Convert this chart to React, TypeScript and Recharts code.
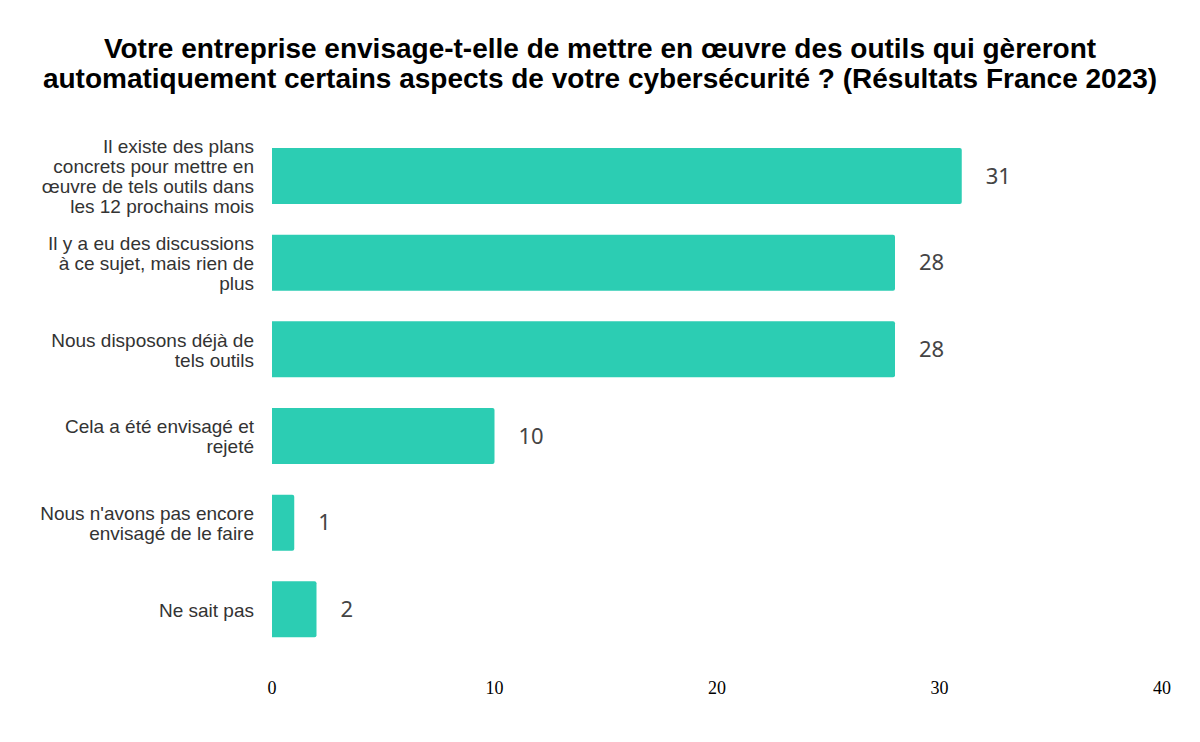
import React from 'react';
import { BarChart, Bar, XAxis, YAxis, LabelList } from 'recharts';

const categories = [
  'Il existe des plans concrets pour mettre en œuvre de tels outils dans les 12 prochains mois',
  'Il y a eu des discussions à ce sujet, mais rien de plus',
  'Nous disposons déjà de tels outils',
  'Cela a été envisagé et rejeté',
  "Nous n'avons pas encore envisagé de le faire",
  'Ne sait pas',
];
const values = [31, 28, 28, 10, 1, 2];
const xTicks = [0, 10, 20, 30, 40];

const data = categories.map((name, i) => ({ name, value: values[i] }));

const wrap = (text: string, max = 25) => {
  const lines: string[] = [];
  let cur = '';
  text.split(' ').forEach((w) => {
    const next = cur ? cur + ' ' + w : w;
    if (next.length > max && cur) {
      lines.push(cur);
      cur = w;
    } else cur = next;
  });
  if (cur) lines.push(cur);
  return lines;
};

const CategoryTick = ({ x, y, payload }: any) => {
  const lines = wrap(payload.value);
  const lh = 20;
  const start = y - ((lines.length - 1) * lh) / 2;
  return (
    <text x={x - 10} y={start} textAnchor="end" fill="#333" fontSize={19}
      fontFamily="'Liberation Sans', Arial, sans-serif" dominantBaseline="central">
      {lines.map((l, i) => (
        <tspan key={i} x={x - 10} y={start + i * lh}>{l}</tspan>
      ))}
    </text>
  );
};

export default function App() {
  return (
    <div style={{ position: 'absolute', top: 0, left: 0, width: 1200, height: 742, background: '#fff' }}>
      <div style={{
        position: 'absolute', top: 34, left: 0, width: 1200, textAlign: 'center',
        fontFamily: "'Liberation Sans', Arial, sans-serif", fontWeight: 'bold', fontSize: 28,
        lineHeight: '30px', color: '#000',
      }}>
        Votre entreprise envisage-t-elle de mettre en œuvre des outils qui gèreront<br />
        automatiquement certains aspects de votre cybersécurité ? (Résultats France 2023)
      </div>
      <BarChart width={1200} height={742} data={data} layout="vertical"
        margin={{ top: 133, right: 38, bottom: 29, left: 0 }}>
        <XAxis type="number" domain={[0, 40]} ticks={xTicks} axisLine={false} tickLine={false}
          height={60} tickMargin={22}
          tick={{ fill: '#000', fontSize: 18, fontFamily: "'Liberation Serif', 'Times New Roman', serif" }} />
        <YAxis type="category" dataKey="name" width={272} axisLine={false} tickLine={false}
          tick={<CategoryTick />} />
        <Bar dataKey="value" fill="#2ccdb3" barSize={56} radius={[0, 2, 2, 0]} isAnimationActive={false}>
          <LabelList dataKey="value" position="right" offset={24} fill="#444" fontSize={22}
            fontFamily="'Noto Sans', sans-serif" />
        </Bar>
      </BarChart>
    </div>
  );
}
